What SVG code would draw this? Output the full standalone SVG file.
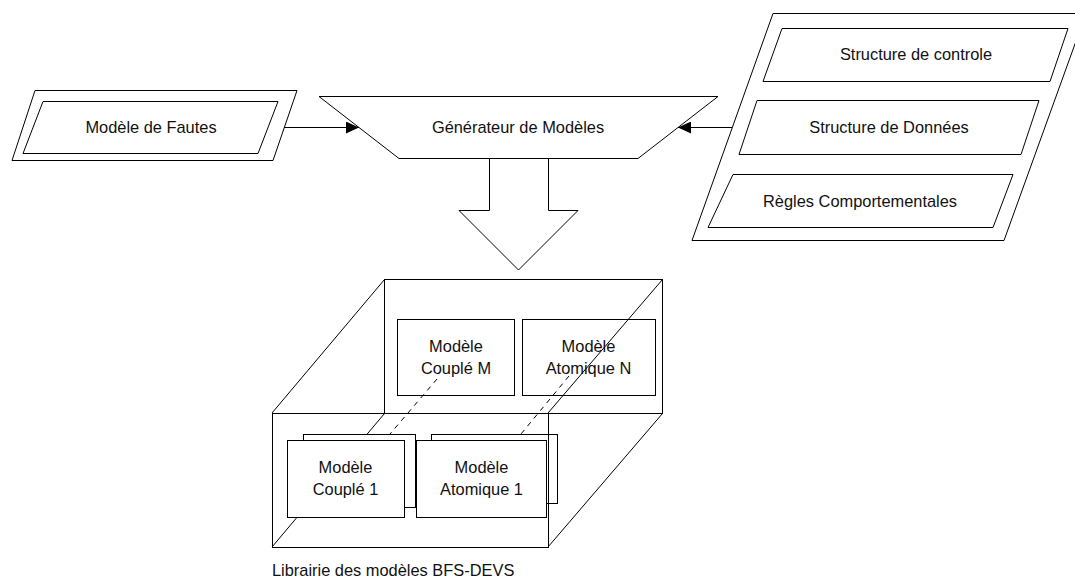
<svg xmlns="http://www.w3.org/2000/svg" width="1075" height="578" viewBox="0 0 1075 578">
  <style>
    .shape { fill: #ffffff; stroke: #000000; stroke-width: 1; }
    .edge { fill: none; stroke: #000000; stroke-width: 1; }
    .hidden { fill: none; stroke: #000000; stroke-width: 1; stroke-dasharray: 5 5; }
    .label { font-family: "Liberation Sans", Arial, sans-serif; font-size: 16.4px; fill: #111111; text-anchor: middle; }
    .caption { font-family: "Liberation Sans", Arial, sans-serif; font-size: 16.4px; fill: #111111; }
  </style>
  <defs>
    <marker id="arrow" viewBox="0 0 13 12" refX="13" refY="6" markerWidth="13" markerHeight="12" markerUnits="userSpaceOnUse" orient="auto">
      <path d="M0,0 L13,6 L0,12 z" fill="#000000"/>
    </marker>
  </defs>

  <rect width="1075" height="578" fill="#ffffff"/>

  <!-- fault model input -->
  <g id="modele-fautes">
    <polygon class="shape" points="35,90.5 297,90.5 273,160.5 12,160.5"/>
    <polygon class="shape" points="43,101.5 278,101.5 258,153.5 23,153.5"/>
    <text class="label" x="151" y="133">Modèle de Fautes</text>
  </g>

  <!-- model generator -->
  <g id="generateur">
    <polygon class="shape" points="319,96.5 718,96.5 638,158.5 399,158.5"/>
    <text class="label" x="518" y="133">Générateur de Modèles</text>
  </g>

  <!-- behaviour description inputs -->
  <g id="descriptions">
    <polygon class="shape" points="773,13.5 1086,13.5 1004,240.5 692,240.5"/>
    <g id="structure-controle">
      <polygon class="shape" points="782,28.5 1068,28.5 1050,81.5 763,81.5"/>
      <text class="label" x="916" y="60">Structure de controle</text>
    </g>
    <g id="structure-donnees">
      <polygon class="shape" points="757,100.5 1039,100.5 1021,154.5 739,154.5"/>
      <text class="label" x="889" y="133">Structure de Données</text>
    </g>
    <g id="regles">
      <polygon class="shape" points="733,174.5 1013,174.5 993,227.5 708,227.5"/>
      <text class="label" x="860" y="207">Règles Comportementales</text>
    </g>
  </g>

  <!-- connectors -->
  <g id="connectors">
    <line class="edge" x1="284" y1="127.5" x2="359" y2="127.5" marker-end="url(#arrow)"/>
    <line class="edge" x1="732" y1="127.5" x2="678" y2="127.5" marker-end="url(#arrow)"/>
    <polygon class="shape" points="489.5,158.5 489.5,210.5 459,210.5 518.5,270 578,210.5 548.5,210.5 548.5,158.5"/>
  </g>

  <!-- BFS-DEVS model library -->
  <g id="librairie">
    <rect class="edge" x="384.5" y="279.5" width="278" height="134"/>
    <g id="couple-m">
      <rect class="shape" x="397.5" y="319.5" width="117" height="76"/>
      <text class="label" x="456" y="352">Modèle</text>
      <text class="label" x="456" y="374">Couplé M</text>
    </g>
    <g id="atomique-n">
      <rect class="shape" x="522.5" y="319.5" width="133" height="76"/>
      <text class="label" x="588.5" y="352">Modèle</text>
      <text class="label" x="588.5" y="374">Atomique N</text>
    </g>
    <line class="edge" x1="272" y1="413" x2="384.5" y2="279.5"/>
    <line class="edge" x1="548" y1="413" x2="662.5" y2="279.5"/>
    <line class="edge" x1="548" y1="547" x2="662.5" y2="413.5"/>
    <line class="edge" x1="272" y1="547" x2="384.5" y2="413.5"/>
    <line class="hidden" x1="437" y1="379" x2="390" y2="434"/>
    <line class="hidden" x1="569" y1="376" x2="521" y2="434"/>
    <g id="couple-1">
      <rect class="shape" x="303.5" y="434.5" width="112" height="73"/>
      <rect class="shape" x="287.5" y="440.5" width="117" height="77"/>
      <text class="label" x="345.5" y="473">Modèle</text>
      <text class="label" x="345.5" y="495">Couplé 1</text>
    </g>
    <g id="atomique-1">
      <rect class="shape" x="431.5" y="434.5" width="126" height="69"/>
      <rect class="shape" x="416.5" y="440.5" width="130" height="77"/>
      <text class="label" x="481.5" y="473">Modèle</text>
      <text class="label" x="481.5" y="495">Atomique 1</text>
    </g>
    <rect class="edge" x="272.5" y="413.5" width="276" height="134"/>
    <text class="caption" x="272" y="576">Librairie des modèles BFS-DEVS</text>
  </g>
</svg>
